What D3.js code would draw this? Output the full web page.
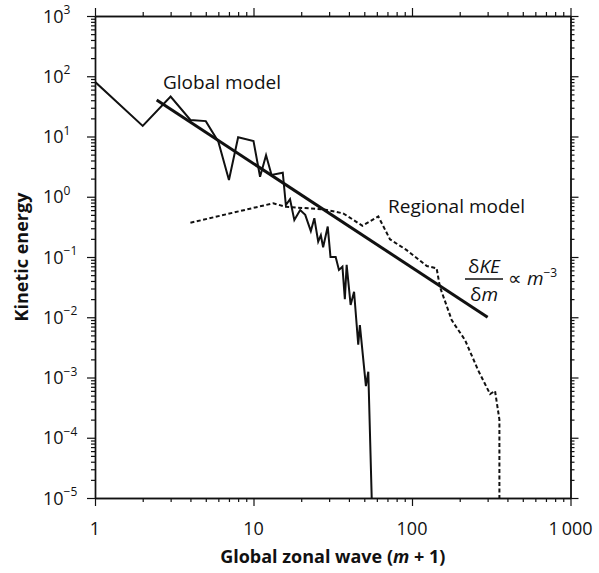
<!DOCTYPE html>
<html>
<head>
<meta charset="utf-8">
<script src="https://cdn.jsdelivr.net/npm/d3@7"></script>
<style>
  body { margin: 0; background: #fff; }
  text { font-family: "Open Sans", "Noto Sans", sans-serif; fill: #111; }
</style>
</head>
<body>
<div id="chart"></div>
<script>
// Data (x = m + 1, y = kinetic energy)
const globalX = [1, 2, 3, 4, 5, 6, 7, 8, 10, 11, 12, 13, 15.3, 16, 17, 18.1, 19.7, 21.2, 23, 24.2, 25.6, 26.6, 27.5, 29.4, 30.6, 33, 34.6, 36.4, 37.7, 38.7, 41, 43.1, 45.8, 46.9, 51.2, 53, 55.7];
const globalY = [81, 15, 46, 18.8, 18, 8.2, 1.9, 9.7, 8.4, 2.15, 4.9, 2.3, 2.5, 0.73, 0.91, 0.41, 0.6, 0.5, 0.27, 0.44, 0.18, 0.23, 0.145, 0.32, 0.1, 0.1, 0.061, 0.069, 0.02, 0.074, 0.016, 0.0265, 0.0035, 0.0074, 0.00072, 0.00125, 1e-5];

const regionalX = [4, 13.3, 16, 27.5, 36.8, 48.7, 61.3, 72.6, 92.6, 124, 143, 150, 178, 188, 216, 262, 311, 334, 356, 356];
const regionalY = [0.37, 0.78, 0.68, 0.62, 0.53, 0.33, 0.47, 0.197, 0.13, 0.071, 0.065, 0.032, 0.009, 0.0072, 0.0042, 0.0013, 0.00053, 0.0006, 0.0002, 1e-5];

// m^-3 reference line end points
const fitX = [2.45, 300];
const fitY = [40.4, 0.01];

const xMajor = [1, 10, 100, 1000];
const xTickLabels = ["1", "10", "100", "1\u2009000"];
const yExponents = [3, 2, 1, 0, -1, -2, -3, -4, -5];

const W = 599, H = 573;
const margin = { top: 16, right: 28.5, bottom: 75, left: 95 };
const width = W - margin.left - margin.right;
const height = H - margin.top - margin.bottom;

const svg = d3.select("#chart").append("svg")
  .attr("width", W)
  .attr("height", H);

const g = svg.append("g")
  .attr("transform", `translate(${margin.left},${margin.top})`);

const x = d3.scaleLog().domain([1, 1000]).range([0, width]);
const y = d3.scaleLog().domain([1e-5, 1e3]).range([height, 0]);

// minor ticks 2..9 in each decade
const xMinor = [];
[1, 10, 100].forEach(d => { for (let k = 2; k <= 9; k++) xMinor.push(d * k); });
const yMajor = yExponents.map(e => Math.pow(10, e));
const yMinor = [];
yExponents.slice(1).forEach(e => { for (let k = 2; k <= 9; k++) yMinor.push(Math.pow(10, e) * k); });

function styleAxis(sel) {
  sel.select(".domain").attr("stroke", "#111").attr("stroke-width", 1.4);
  sel.selectAll(".tick line").attr("stroke", "#111").attr("stroke-width", 1.2);
  sel.selectAll(".tick text").remove();
}

const axes = [
  { fn: d3.axisBottom, sc: x, maj: xMajor, min: xMinor, t: `translate(0,${height})` },
  { fn: d3.axisTop, sc: x, maj: xMajor, min: xMinor, t: "translate(0,0)" },
  { fn: d3.axisLeft, sc: y, maj: yMajor, min: yMinor, t: "translate(0,0)" },
  { fn: d3.axisRight, sc: y, maj: yMajor, min: yMinor, t: `translate(${width},0)` }
];
axes.forEach(a => {
  g.append("g").attr("transform", a.t)
    .call(a.fn(a.sc).tickValues(a.min).tickSize(4).tickSizeOuter(0).tickFormat(""))
    .call(styleAxis);
  g.append("g").attr("transform", a.t)
    .call(a.fn(a.sc).tickValues(a.maj).tickSize(8).tickSizeOuter(0).tickFormat(""))
    .call(styleAxis);
});

// x tick labels
g.selectAll(".xlab")
  .data(xMajor)
  .enter().append("text")
  .attr("class", "xlab")
  .attr("x", d => x(d))
  .attr("y", height + 37)
  .attr("text-anchor", "middle")
  .style("font-size", "18px")
  .text((d, i) => xTickLabels[i]);

// y tick labels, 10 with superscript exponent
const ylab = g.selectAll(".ylab")
  .data(yExponents)
  .enter().append("text")
  .attr("class", "ylab")
  .attr("x", 43 - margin.left)
  .attr("y", d => y(Math.pow(10, d)) + 6.5)
  .style("font-size", "18px");
ylab.append("tspan").text("10");
ylab.append("tspan")
  .attr("dy", -8.5)
  .style("font-size", "12px")
  .text(d => d < 0 ? "\u2212" + (-d) : String(d));

// axis titles
g.append("text")
  .attr("x", width / 2)
  .attr("y", height + 65)
  .attr("text-anchor", "middle")
  .style("font-size", "18px")
  .style("font-weight", "bold")
  .call(t => {
    t.append("tspan").text("Global zonal wave (");
    t.append("tspan").style("font-style", "italic").text("m");
    t.append("tspan").text(" + 1)");
  });

g.append("text")
  .attr("transform", `translate(${28 - margin.left},${height / 2}) rotate(-90)`)
  .attr("text-anchor", "middle")
  .style("font-size", "18px")
  .style("font-weight", "bold")
  .text("Kinetic energy");

// lines
svg.append("clipPath").attr("id", "clip")
  .append("rect").attr("width", width).attr("height", height);

const line = d3.line().x(d => x(d[0])).y(d => y(d[1]));
const plot = g.append("g").attr("clip-path", "url(#clip)");

plot.append("path")
  .datum(d3.zip(regionalX, regionalY))
  .attr("fill", "none")
  .attr("stroke", "#111")
  .attr("stroke-width", 2)
  .attr("stroke-dasharray", "4,2.5")
  .attr("d", line);

plot.append("path")
  .datum(d3.zip(globalX, globalY))
  .attr("fill", "none")
  .attr("stroke", "#111")
  .attr("stroke-width", 2)
  .attr("stroke-linejoin", "miter")
  .attr("d", line);

plot.append("path")
  .datum(d3.zip(fitX, fitY))
  .attr("fill", "none")
  .attr("stroke", "#111")
  .attr("stroke-width", 3)
  .attr("d", line);

// annotations
g.append("text")
  .attr("x", 163 - margin.left)
  .attr("y", 89 - margin.top)
  .style("font-size", "19px")
  .text("Global model");

g.append("text")
  .attr("x", 388 - margin.left)
  .attr("y", 213 - margin.top)
  .style("font-size", "19px")
  .text("Regional model");

const fx = 484 - margin.left;
g.append("text")
  .attr("x", fx).attr("y", 273 - margin.top)
  .attr("text-anchor", "middle")
  .style("font-size", "19px")
  .call(t => {
    t.append("tspan").text("\u03b4");
    t.append("tspan").style("font-style", "italic").text("KE");
  });
g.append("line")
  .attr("x1", 465 - margin.left).attr("x2", 503 - margin.left)
  .attr("y1", 279 - margin.top).attr("y2", 279 - margin.top)
  .attr("stroke", "#111").attr("stroke-width", 1.3);
g.append("text")
  .attr("x", fx).attr("y", 301 - margin.top)
  .attr("text-anchor", "middle")
  .style("font-size", "19px")
  .call(t => {
    t.append("tspan").text("\u03b4");
    t.append("tspan").style("font-style", "italic").text("m");
  });
g.append("text")
  .attr("x", 508 - margin.left).attr("y", 285 - margin.top)
  .style("font-size", "19px")
  .call(t => {
    t.append("tspan").text("\u221d ");
    t.append("tspan").style("font-style", "italic").text("m");
    t.append("tspan").attr("dy", -8).style("font-size", "12px").text("\u22123");
  });
</script>
</body>
</html>
